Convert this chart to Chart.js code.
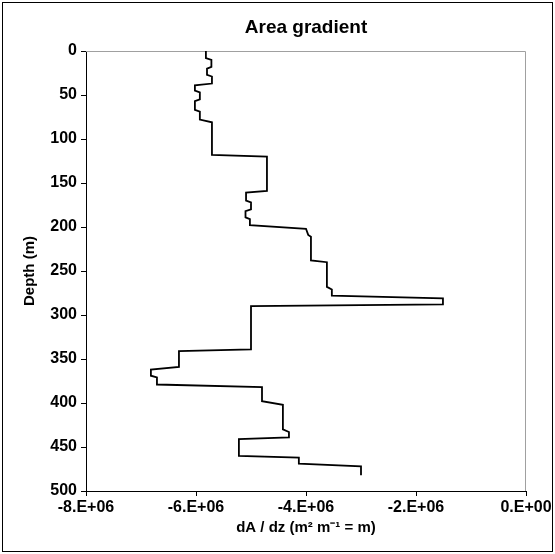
<!DOCTYPE html>
<html>
<head>
<meta charset="utf-8">
<script src="https://cdn.jsdelivr.net/npm/chart.js@4.4.1/dist/chart.umd.min.js"></script>
<style>
  html, body { margin: 0; padding: 0; background: #fff; }
  #wrap { width: 555px; height: 554px; }
</style>
</head>
<body>
<div id="wrap"><canvas id="areaChart" width="555" height="554"></canvas></div>
<script>
// chart text
const chartTitle = "Area gradient";
const xAxisTitle = "dA / dz (m\u00B2 m\u207B\u00B9 = m)";
const yAxisTitle = "Depth (m)";

// profile: depth (m) and dA/dz (m)
const depth = [
  0, 8, 10, 18, 20, 27, 29, 37, 39, 45, 47, 55, 57, 67, 69, 78, 81, 118,
  120, 159, 161, 170, 172, 180, 182, 189, 191, 198, 202, 209, 211, 238,
  240, 268, 271, 278, 281, 288, 290, 339, 341, 359, 362, 369, 371, 379,
  382, 398, 402, 430, 433, 439, 441, 460, 462, 469, 472, 482
];
const dAdz = [
  -5.82e6, -5.82e6, -5.72e6, -5.72e6, -5.80e6, -5.80e6, -5.71e6, -5.71e6,
  -6.02e6, -6.02e6, -5.93e6, -5.93e6, -6.02e6, -6.02e6, -5.93e6, -5.93e6,
  -5.71e6, -5.71e6, -4.71e6, -4.71e6, -5.09e6, -5.09e6, -5.00e6, -5.00e6,
  -5.10e6, -5.10e6, -5.02e6, -5.02e6, -4.00e6, -3.96e6, -3.91e6, -3.91e6,
  -3.62e6, -3.62e6, -3.53e6, -3.53e6, -1.51e6, -1.51e6, -5.00e6, -5.00e6,
  -6.31e6, -6.31e6, -6.82e6, -6.82e6, -6.71e6, -6.71e6, -4.80e6, -4.80e6,
  -4.42e6, -4.42e6, -4.31e6, -4.31e6, -5.22e6, -5.22e6, -4.13e6, -4.13e6,
  -3.00e6, -3.00e6
];

// tick labels
const xTickLabels = ["-8.E+06", "-6.E+06", "-4.E+06", "-2.E+06", "0.E+00"];
const yTickLabels = ["0", "50", "100", "150", "200", "250", "300", "350", "400", "450", "500"];

const fontFamily = "Arial, 'Liberation Sans', sans-serif";

// white page, outer frame, plot frame and centred title
const frame = {
  id: "frame",
  beforeDraw(chart) {
    const ctx = chart.ctx;
    ctx.save();
    ctx.fillStyle = "#fff";
    ctx.fillRect(0, 0, chart.width, chart.height);
    ctx.strokeStyle = "#000";
    ctx.lineWidth = 1;
    ctx.strokeRect(2.5, 2.5, chart.width - 5, chart.height - 5);
    ctx.restore();
  },
  beforeDatasetsDraw(chart) {
    const { ctx, chartArea: a } = chart;
    ctx.save();
    ctx.strokeStyle = "#a0a0a0";
    ctx.lineWidth = 1;
    ctx.beginPath();
    ctx.moveTo(a.left, a.top + 0.5);
    ctx.lineTo(a.right - 0.5, a.top + 0.5);
    ctx.lineTo(a.right - 0.5, a.bottom);
    ctx.stroke();
    ctx.fillStyle = "#000";
    ctx.font = "bold 19px " + fontFamily;
    ctx.textAlign = "center";
    ctx.textBaseline = "middle";
    ctx.fillText(chartTitle, (a.left + a.right) / 2, 28);
    ctx.restore();
  }
};

const ctx = document.getElementById("areaChart").getContext("2d");
new Chart(ctx, {
  type: "scatter",
  data: {
    datasets: [
      {
        label: "dA/dz",
        data: depth.map((d, i) => ({ x: dAdz[i], y: d })),
        showLine: true,
        borderColor: "#000",
        borderWidth: 1.8,
        pointRadius: 0,
        tension: 0,
        fill: false,
      },
    ],
  },
  options: {
    responsive: false,
    animation: false,
    layout: { padding: { top: 51, right: 29, left: 0, bottom: 0 } },
    plugins: {
      legend: { display: false },
      title: { display: false },
      tooltip: { enabled: false },
    },
    scales: {
      x: {
        type: "linear",
        min: -8e6,
        max: 0,
        afterFit: (s) => { s.height = 63; },
        afterBuildTicks: (s) => {
          s.ticks = xTickLabels.map((_, i) => ({ value: -8e6 + i * 2e6 }));
        },
        ticks: {
          color: "#000",
          padding: 2,
          maxRotation: 0,
          autoSkip: false,
          font: { family: fontFamily, size: 16, weight: "bold" },
          callback: (v, i) => xTickLabels[i],
        },
        grid: { drawOnChartArea: false, drawTicks: true, tickLength: 5, color: "#000" },
        border: { color: "#000", width: 1 },
        title: {
          display: true,
          text: xAxisTitle,
          color: "#000",
          padding: { top: 0, bottom: 17 },
          font: { family: fontFamily, size: 15, weight: "bold" },
        },
      },
      y: {
        type: "linear",
        reverse: true,
        min: 0,
        max: 500,
        afterFit: (s) => { s.width = 86; },
        afterBuildTicks: (s) => {
          s.ticks = yTickLabels.map((t) => ({ value: Number(t) }));
        },
        ticks: {
          color: "#000",
          padding: 4,
          autoSkip: false,
          font: { family: fontFamily, size: 16, weight: "bold" },
          callback: (v, i) => yTickLabels[i],
        },
        grid: { drawOnChartArea: false, drawTicks: true, tickLength: 5, color: "#000" },
        border: { color: "#000", width: 1 },
        title: {
          display: true,
          text: yAxisTitle,
          color: "#000",
          padding: { top: 21, bottom: 0 },
          font: { family: fontFamily, size: 15, weight: "bold" },
        },
      },
    },
  },
  plugins: [frame],
});
</script>
</body>
</html>
